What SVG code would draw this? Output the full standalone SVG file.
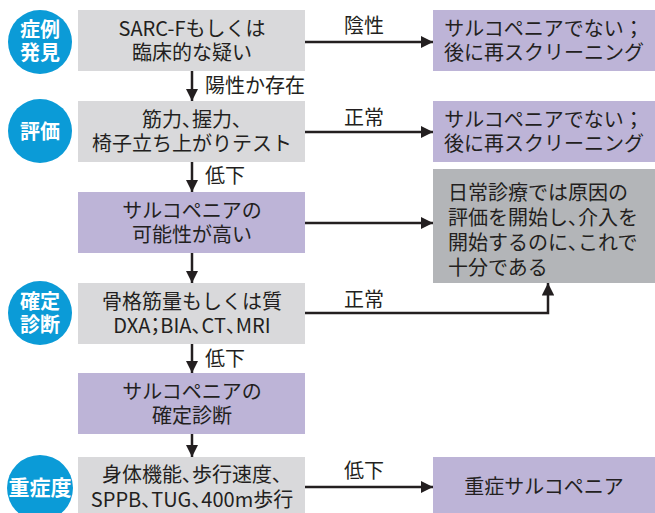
<svg xmlns="http://www.w3.org/2000/svg" width="655" height="513" viewBox="0 0 655 513">
<defs>
<style>
text{font-family:"Noto Sans CJK JP","Noto Sans",sans-serif;fill:#231f20;font-size:20px}
.c{text-anchor:middle}
.p{font-feature-settings:"palt"}
.w{fill:#fff;font-weight:bold;font-size:20px;text-anchor:middle}
.gl{fill:#d9d9db}
.pu{fill:#bdb4d7}
.gd{fill:#b3b5b8}
.bl{fill:#0b9bd7}
.ln{stroke:#231f20;stroke-width:2.5;fill:none}
</style>
<marker id="ah" viewBox="0 0 10 10" refX="10" refY="5" markerWidth="5" markerHeight="5" markerUnits="strokeWidth" orient="auto">
<path d="M0,0 L10,5 L0,10 z" fill="#231f20"/>
</marker>
</defs>
<rect width="655" height="513" fill="#fff"/>

<g id="step1">
<circle class="bl" cx="40" cy="42" r="32"/>
<text class="w" x="40" y="37">症例</text>
<text class="w" x="40" y="60">発見</text>
</g>
<g id="step2">
<circle class="bl" cx="40" cy="131" r="32"/>
<text class="w" x="40" y="139">評価</text>
</g>
<g id="step3">
<circle class="bl" cx="40" cy="313" r="32"/>
<text class="w" x="40" y="309">確定</text>
<text class="w" x="40" y="332">診断</text>
</g>
<g id="step4">
<circle class="bl" cx="40" cy="488" r="33"/>
<text class="w" x="40" y="495" style="font-size:21px">重症度</text>
</g>

<g id="box1">
<rect class="gl" x="78" y="10" width="227" height="61"/>
<text class="c" x="192" y="36">SARC-Fもしくは</text>
<text class="c" x="192" y="60">臨床的な疑い</text>
</g>
<g id="box2">
<rect class="gl" x="78" y="101" width="227" height="61"/>
<text class="c p" x="192" y="127">筋力、握力、</text>
<text class="c" x="192" y="151">椅子立ち上がりテスト</text>
</g>
<g id="box3">
<rect class="pu" x="78" y="192" width="227" height="61"/>
<text class="c" x="192" y="218">サルコペニアの</text>
<text class="c" x="192" y="242">可能性が高い</text>
</g>
<g id="box4">
<rect class="gl" x="78" y="283" width="227" height="61"/>
<text class="c" x="192" y="309">骨格筋量もしくは質</text>
<text class="c p" x="192" y="333">DXA；BIA、CT、MRI</text>
</g>
<g id="box5">
<rect class="pu" x="78" y="373" width="227" height="61"/>
<text class="c" x="192" y="399">サルコペニアの</text>
<text class="c" x="192" y="423">確定診断</text>
</g>
<g id="box6">
<rect class="gl" x="78" y="457" width="227" height="60"/>
<text class="c p" x="192" y="482">身体機能、歩行速度、</text>
<text class="c p" x="192" y="507">SPPB、TUG、400m歩行</text>
</g>

<g id="r1">
<rect class="pu" x="433" y="10" width="222" height="61"/>
<text class="c" x="544" y="36">サルコペニアでない；</text>
<text class="c" x="544" y="60">後に再スクリーニング</text>
</g>
<g id="r2">
<rect class="pu" x="433" y="101" width="222" height="61"/>
<text class="c" x="544" y="127">サルコペニアでない；</text>
<text class="c" x="544" y="151">後に再スクリーニング</text>
</g>
<g id="r3">
<rect class="gd" x="433" y="169" width="222" height="114"/>
<text x="448" y="200">日常診療では原因の</text>
<text x="448" y="225">評価を開始し<tspan class="p">、</tspan>介入を</text>
<text x="448" y="250">開始するのに<tspan class="p">、</tspan>これで</text>
<text x="448" y="275">十分である</text>
</g>
<g id="r4">
<rect class="pu" x="433" y="457" width="222" height="60"/>
<text class="c" x="544" y="494">重症サルコペニア</text>
</g>

<g id="connectors">
<path class="ln" d="M192 71 V101" marker-end="url(#ah)"/>
<path class="ln" d="M192 162 V192" marker-end="url(#ah)"/>
<path class="ln" d="M192 253 V283" marker-end="url(#ah)"/>
<path class="ln" d="M192 344 V373" marker-end="url(#ah)"/>
<path class="ln" d="M192 434 V457" marker-end="url(#ah)"/>
<path class="ln" d="M305 42 H433" marker-end="url(#ah)"/>
<path class="ln" d="M305 132 H433" marker-end="url(#ah)"/>
<path class="ln" d="M305 223 H433" marker-end="url(#ah)"/>
<path class="ln" d="M305 313 H548 V283" marker-end="url(#ah)"/>
<path class="ln" d="M305 487 H433" marker-end="url(#ah)"/>
<text x="205" y="93">陽性か存在</text>
<text x="205" y="183">低下</text>
<text x="205" y="366">低下</text>
<text x="344" y="33">陰性</text>
<text x="344" y="125">正常</text>
<text x="344" y="307">正常</text>
<text x="344" y="478">低下</text>
</g>
</svg>
